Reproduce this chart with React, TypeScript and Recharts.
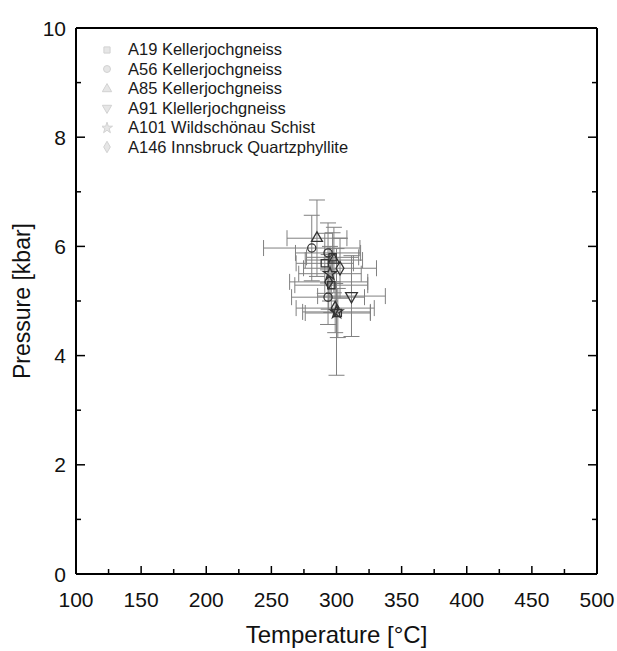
import React from 'react';
import { ScatterChart, Scatter, XAxis, YAxis, ZAxis, ErrorBar, Legend, Symbols } from 'recharts';

// ---- data ----
const seriesNames = [
  'A19 Kellerjochgneiss',
  'A56 Kellerjochgneiss',
  'A85 Kellerjochgneiss',
  'A91 Klellerjochgneiss',
  'A101 Wildschönau Schist',
  'A146 Innsbruck Quartzphyllite',
];
const seriesShapes = ['square', 'circle', 'triangle', 'triangleDown', 'star', 'diamond'];

const a19 = [
  { t: 291, p: 5.69, te: 22, pe: 0.55 },
  { t: 296, p: 5.29, te: 28, pe: 0.5 },
  { t: 297, p: 5.8, te: 20, pe: 0.45 },
  { t: 301, p: 4.78, te: 25, pe: 0.45 },
];
const a56 = [
  { t: 281, p: 5.97, te: 37, pe: 0.6 },
  { t: 293.5, p: 5.88, te: 25, pe: 0.55 },
  { t: 293.5, p: 5.07, te: 28, pe: 0.5 },
];
const a85 = [
  { t: 285, p: 6.15, te: 23, pe: 0.7 },
  { t: 298, p: 5.75, te: 22, pe: 0.6 },
];
const a91 = [{ t: 311.5, p: 5.09, te: 26, pe: 0.74 }];
const a101 = [
  { t: 300, p: 4.8, te: 26, pe: 1.16 },
  { t: 295, p: 5.5, te: 24, pe: 0.5 },
];
const a146 = [
  { t: 302.7, p: 5.6, te: 28, pe: 0.55 },
  { t: 299, p: 4.87, te: 30, pe: 0.45 },
  { t: 294, p: 5.35, te: 30, pe: 0.5 },
];
const seriesData = [a19, a56, a85, a91, a101, a146];

const xTickValues = [100, 125, 150, 175, 200, 225, 250, 275, 300, 325, 350, 375, 400, 425, 450, 475, 500];
const xTickLabels = ['100', '', '150', '', '200', '', '250', '', '300', '', '350', '', '400', '', '450', '', '500'];
const yTickValues = [0, 1, 2, 3, 4, 5, 6, 7, 8, 9, 10];
const yTickLabels = ['0', '', '2', '', '4', '', '6', '', '8', '', '10'];

const FONT = '"Liberation Sans", Arial, Helvetica, sans-serif';

const labelFor = (vals: number[], labels: string[], v: number) => {
  const i = vals.indexOf(v);
  return i >= 0 ? labels[i] : '';
};

const BottomTick = (props: any) => {
  const { x, y, payload } = props;
  const lbl = labelFor(xTickValues, xTickLabels, payload.value);
  const len = lbl ? 8 : 5;
  return (
    <g>
      <line x1={x} y1={y} x2={x} y2={y - len} stroke="#000" strokeWidth={1.5} />
      {lbl ? (
        <text x={x} y={y + 33} textAnchor="middle" fontSize={21} fontFamily={FONT} fill="#111">
          {lbl}
        </text>
      ) : null}
    </g>
  );
};
const TopTick = (props: any) => {
  const { x, y, payload } = props;
  const lbl = labelFor(xTickValues, xTickLabels, payload.value);
  const len = lbl ? 8 : 5;
  return <line x1={x} y1={y} x2={x} y2={y + len} stroke="#000" strokeWidth={1.5} />;
};
const LeftTick = (props: any) => {
  const { x, y, payload } = props;
  const lbl = labelFor(yTickValues, yTickLabels, payload.value);
  const len = lbl ? 9 : 5;
  return (
    <g>
      <line x1={x} y1={y} x2={x + len} y2={y} stroke="#000" strokeWidth={1.5} />
      {lbl ? (
        <text x={x - 10} y={y} dy="0.36em" textAnchor="end" fontSize={21} fontFamily={FONT} fill="#111">
          {lbl}
        </text>
      ) : null}
    </g>
  );
};
const RightTick = (props: any) => {
  const { x, y, payload } = props;
  const lbl = labelFor(yTickValues, yTickLabels, payload.value);
  const len = lbl ? 9 : 5;
  return <line x1={x} y1={y} x2={x - len} y2={y} stroke="#000" strokeWidth={1.5} />;
};

const makeShape = (type: string) => (props: any) => {
  const { cx, cy } = props;
  if (cx == null || cy == null) return null;
  if (type === 'triangleDown') {
    return (
      <g transform={`rotate(180 ${cx} ${cy})`}>
        <Symbols cx={cx} cy={cy} type="triangle" size={60} sizeType="area" fill="none" stroke="#333" strokeWidth={1.3} />
      </g>
    );
  }
  return <Symbols cx={cx} cy={cy} type={type as any} size={52} sizeType="area" fill="none" stroke="#333" strokeWidth={1.3} />;
};

const LegendContent = () => (
  <div style={{ fontFamily: FONT, fontSize: 16.5, color: '#1a1a1a', lineHeight: '19.5px' }}>
    {seriesNames.map((n, i) => {
      const type = seriesShapes[i];
      return (
        <div key={n} style={{ display: 'flex', alignItems: 'center', height: 19.5, whiteSpace: 'nowrap' }}>
          <svg width={26} height={16} style={{ display: 'block' }}>
            <g transform={type === 'triangleDown' ? 'rotate(180 5 8)' : undefined}>
              <Symbols cx={5} cy={8} type={(type === 'triangleDown' ? 'triangle' : type) as any} size={38} sizeType="area" fill="#e6e6e6" stroke="#d2d2d2" strokeWidth={1} />
            </g>
          </svg>
          <span>{n}</span>
        </div>
      );
    })}
  </div>
);

export default function App() {
  return (
    <div style={{ position: 'absolute', left: 0, top: 0, width: 617, height: 651, background: '#fff' }}>
      <ScatterChart width={617} height={651} margin={{ top: 0, right: 0, bottom: 0, left: 0 }}>
        <XAxis
          xAxisId="b"
          orientation="bottom"
          type="number"
          dataKey="t"
          domain={[100, 500]}
          allowDataOverflow
          ticks={xTickValues}
          interval={0}
          height={77}
          tickSize={0}
          tickMargin={0}
          tickLine={false}
          tick={<BottomTick />}
          axisLine={{ stroke: '#000', strokeWidth: 2 }}
          label={{
            content: (p: any) => {
              const vb = p.viewBox;
              return (
                <text x={vb.x + vb.width / 2} y={vb.y + 69} textAnchor="middle" fontSize={24} fontFamily={FONT} fill="#111">
                  Temperature [°C]
                </text>
              );
            },
          }}
        />
        <XAxis
          xAxisId="t"
          orientation="top"
          type="number"
          domain={[100, 500]}
          allowDataOverflow
          ticks={xTickValues}
          interval={0}
          height={28}
          tickSize={0}
          tickMargin={0}
          tickLine={false}
          tick={<TopTick />}
          axisLine={{ stroke: '#000', strokeWidth: 2 }}
        />
        <YAxis
          yAxisId="l"
          orientation="left"
          type="number"
          dataKey="p"
          domain={[0, 10]}
          allowDataOverflow
          ticks={yTickValues}
          interval={0}
          width={76}
          tickSize={0}
          tickMargin={0}
          tickLine={false}
          tick={<LeftTick />}
          axisLine={{ stroke: '#000', strokeWidth: 2 }}
          label={{
            content: (p: any) => {
              const vb = p.viewBox;
              const cx = vb.x + 22;
              const cy = vb.y + vb.height / 2;
              return (
                <text x={cx} y={cy} transform={`rotate(-90 ${cx} ${cy})`} textAnchor="middle" dominantBaseline="central" fontSize={23} fontFamily={FONT} fill="#111">
                  Pressure [kbar]
                </text>
              );
            },
          }}
        />
        <YAxis
          yAxisId="r"
          orientation="right"
          type="number"
          domain={[0, 10]}
          allowDataOverflow
          ticks={yTickValues}
          interval={0}
          width={20}
          tickSize={0}
          tickMargin={0}
          tickLine={false}
          tick={<RightTick />}
          axisLine={{ stroke: '#000', strokeWidth: 2 }}
        />
        <ZAxis range={[52, 52]} />
        <Legend
          layout="vertical"
          verticalAlign="middle"
          align="center"
          content={<LegendContent />}
          wrapperStyle={{ position: 'absolute', left: 102, top: 40, width: 320 }}
        />
        {seriesData.map((d, i) => (
          <Scatter
            key={seriesNames[i]}
            name={seriesNames[i]}
            data={d}
            xAxisId="b"
            yAxisId="l"
            isAnimationActive={false}
            shape={makeShape(seriesShapes[i])}
          >
            <ErrorBar dataKey="te" direction="x" width={8} stroke="#808080" strokeWidth={1} isAnimationActive={false} />
            <ErrorBar dataKey="pe" direction="y" width={8} stroke="#808080" strokeWidth={1} isAnimationActive={false} />
          </Scatter>
        ))}
      </ScatterChart>
    </div>
  );
}
